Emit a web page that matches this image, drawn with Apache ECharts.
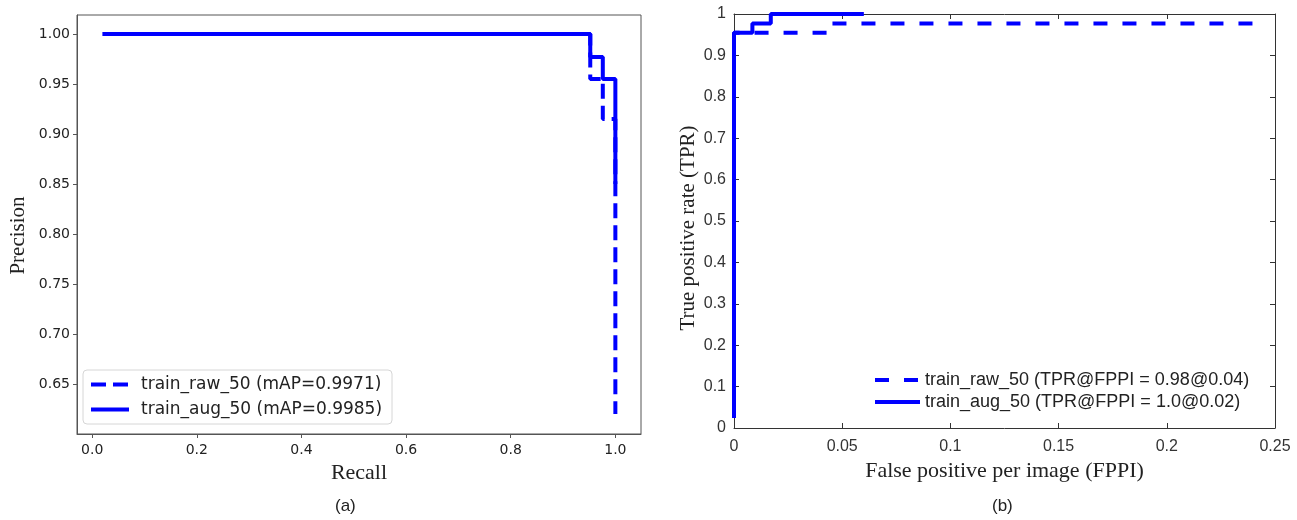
<!DOCTYPE html>
<html>
<head>
<meta charset="utf-8">
<script src="https://cdn.jsdelivr.net/npm/echarts@6/dist/echarts.min.js"></script>
<style>
  html, body { margin: 0; padding: 0; background: #fff; }
  #chart { width: 1297px; height: 520px; }
</style>
</head>
<body>
<div id="chart"></div>
<script>
// (a) precision / recall
const recallTicks = [0, 0.2, 0.4, 0.6, 0.8, 1.0]
const precisionTicks = [0.65, 0.70, 0.75, 0.80, 0.85, 0.90, 0.95, 1.00]
const rawPrName = 'train_raw_50 (mAP=0.9971)'
const augPrName = 'train_aug_50 (mAP=0.9985)'
const rawRecall = [0.02, 0.952, 0.952, 0.976, 0.976, 1.0, 1.0]
const rawPrecision = [1.0, 1.0, 0.955, 0.955, 0.915, 0.915, 0.62]
const augRecall = [0.02, 0.952, 0.952, 0.976, 0.976, 1.0, 1.0]
const augPrecision = [1.0, 1.0, 0.977, 0.977, 0.955, 0.955, 0.85]

// (b) TPR / FPPI
const fppiTicks = [0, 0.05, 0.1, 0.15, 0.2, 0.25]
const tprTicks = [0, 0.1, 0.2, 0.3, 0.4, 0.5, 0.6, 0.7, 0.8, 0.9, 1]
const rawRocName = 'train_raw_50 (TPR@FPPI = 0.98@0.04)'
const augRocName = 'train_aug_50 (TPR@FPPI = 1.0@0.02)'
const rawFppi = [0, 0, 0.043, 0.043, 0.24]
const rawTpr = [0.024, 0.955, 0.955, 0.977, 0.977]
const augFppi = [0, 0, 0.0085, 0.0085, 0.017, 0.017, 0.06]
const augTpr = [0.024, 0.955, 0.955, 0.977, 0.977, 1.0, 1.0]

const zip = (xs, ys) => xs.map((x, i) => [x, ys[i]])

const blue = '#0000ff'
const mplFont = 'DejaVu Sans'
const serif = 'Liberation Serif'
const matFont = 'Liberation Sans'

const chart = echarts.init(document.getElementById('chart'))

const option = {
  animation: false,
  backgroundColor: '#fff',
  grid: [
    { left: 77, top: 15, width: 564, height: 419, show: true, borderColor: '#555', borderWidth: 1 },
    { left: 734, top: 14, width: 541, height: 414 },
  ],
  xAxis: [
    {
      gridIndex: 0, type: 'value', min: -0.029, max: 1.049,
      axisLine: { show: true, onZero: false, lineStyle: { color: '#555' } },
      axisTick: { show: true, inside: false, length: 4, customValues: recallTicks, lineStyle: { color: '#555' } },
      axisLabel: { customValues: recallTicks, formatter: v => v.toFixed(1), margin: 9, color: '#222', fontFamily: mplFont, fontSize: 14 },
      splitLine: { show: false },
      name: 'Recall', nameLocation: 'middle', nameGap: 24,
      nameTextStyle: { fontFamily: serif, fontSize: 22, color: '#222' },
    },
    {
      gridIndex: 1, type: 'value', min: 0, max: 0.25, interval: 0.05,
      axisLine: { show: true, onZero: false, lineStyle: { color: '#333' } },
      axisTick: { show: true, inside: true, length: 5, lineStyle: { color: '#333' } },
      axisLabel: { formatter: v => String(+v.toFixed(2)), margin: 11, color: '#333', fontFamily: matFont, fontSize: 16 },
      splitLine: { show: false },
      name: 'False positive per image (FPPI)', nameLocation: 'middle', nameGap: 28,
      nameTextStyle: { fontFamily: serif, fontSize: 22, color: '#222' },
    },
    {
      gridIndex: 1, type: 'value', position: 'top', min: 0, max: 0.25, interval: 0.05,
      axisLine: { show: true, onZero: false, lineStyle: { color: '#333' } },
      axisTick: { show: true, inside: true, length: 5, lineStyle: { color: '#333' } },
      axisLabel: { show: false },
      splitLine: { show: false },
    },
  ],
  yAxis: [
    {
      gridIndex: 0, type: 'value', min: 0.600, max: 1.019,
      axisLine: { show: true, onZero: false, lineStyle: { color: '#555' } },
      axisTick: { show: true, inside: false, length: 4, customValues: precisionTicks, lineStyle: { color: '#555' } },
      axisLabel: { customValues: precisionTicks, formatter: v => v.toFixed(2), margin: 7, color: '#222', fontFamily: mplFont, fontSize: 14 },
      splitLine: { show: false },
      name: 'Precision', nameLocation: 'middle', nameGap: 48,
      nameTextStyle: { fontFamily: serif, fontSize: 21, color: '#222', padding: [0, 22, 0, 0] },
    },
    {
      gridIndex: 1, type: 'value', min: 0, max: 1, interval: 0.1,
      axisLine: { show: true, onZero: false, lineStyle: { color: '#333' } },
      axisTick: { show: true, inside: true, length: 5, lineStyle: { color: '#333' } },
      axisLabel: { formatter: v => String(+v.toFixed(1)), margin: 8, color: '#333', fontFamily: matFont, fontSize: 16 },
      splitLine: { show: false },
      name: 'True positive rate (TPR)', nameLocation: 'middle', nameGap: 35,
      nameTextStyle: { fontFamily: serif, fontSize: 21, color: '#222', padding: [0, 14, 0, 0] },
    },
    {
      gridIndex: 1, type: 'value', position: 'right', min: 0, max: 1, interval: 0.1,
      axisLine: { show: true, onZero: false, lineStyle: { color: '#333' } },
      axisTick: { show: true, inside: true, length: 5, lineStyle: { color: '#333' } },
      axisLabel: { show: false },
      splitLine: { show: false },
    },
  ],
  legend: [
    {
      data: [rawPrName, augPrName],
      orient: 'vertical', left: 83, top: 370,
      itemWidth: 38, itemHeight: 14, itemGap: 8,
      padding: [6, 10, 6, 6],
      backgroundColor: 'rgba(255,255,255,0.8)',
      borderColor: '#d6d6d6', borderWidth: 1, borderRadius: 4,
      itemStyle: { opacity: 0 },
      lineStyle: { width: 4 },
      textStyle: { fontFamily: mplFont, fontSize: 17, color: '#222', padding: [0, 0, 0, 7] },
    },
    {
      data: [rawRocName, augRocName],
      orient: 'vertical', left: 873, top: 371,
      itemWidth: 45, itemHeight: 14, itemGap: 4,
      padding: 0,
      itemStyle: { opacity: 0 },
      lineStyle: { width: 4 },
      textStyle: { fontFamily: matFont, fontSize: 18, color: '#222' },
    },
  ],
  series: [
    {
      name: rawPrName, type: 'line', xAxisIndex: 0, yAxisIndex: 0,
      data: zip(rawRecall, rawPrecision), symbol: 'none',
      lineStyle: { color: blue, width: 4, type: [15, 7] }, itemStyle: { color: blue },
    },
    {
      name: augPrName, type: 'line', xAxisIndex: 0, yAxisIndex: 0,
      data: zip(augRecall, augPrecision), symbol: 'none',
      lineStyle: { color: blue, width: 4 }, itemStyle: { color: blue },
    },
    {
      name: rawRocName, type: 'line', xAxisIndex: 1, yAxisIndex: 1,
      data: zip(rawFppi, rawTpr), symbol: 'none',
      lineStyle: { color: blue, width: 4, type: [14, 15] }, itemStyle: { color: blue },
    },
    {
      name: augRocName, type: 'line', xAxisIndex: 1, yAxisIndex: 1,
      data: zip(augFppi, augTpr), symbol: 'none',
      lineStyle: { color: blue, width: 4 }, itemStyle: { color: blue },
    },
  ],
  graphic: [
    { type: 'text', left: 335, top: 498, style: { text: '(a)', fontFamily: matFont, fontSize: 17, fill: '#222' } },
    { type: 'text', left: 992, top: 498, style: { text: '(b)', fontFamily: matFont, fontSize: 17, fill: '#222' } },
  ],
}

chart.setOption(option)
</script>
</body>
</html>
